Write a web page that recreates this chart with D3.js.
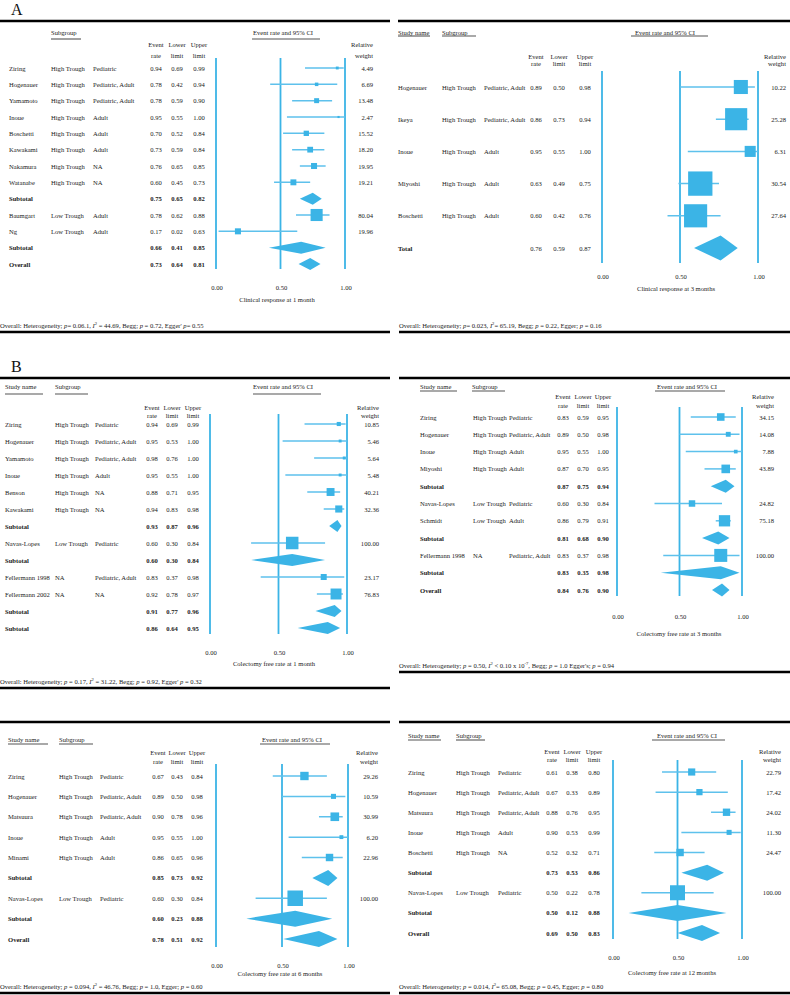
<!DOCTYPE html>
<html><head><meta charset="utf-8">
<script src="https://cdn.jsdelivr.net/npm/d3@7"></script>
<style>body{margin:0;background:#fff}svg{display:block}</style>
</head><body>
<svg id="c" width="790" height="995"></svg>
<script>
// ---------- DATA ----------
const tickValues = [0, 0.5, 1];
const tickLabels = ["0.00", "0.50", "1.00"];

// Panel A left: clinical response at 1 month
const a1Study  = ["Ziring","Hogenauer","Yamamoto","Inoue","Boschetti","Kawakami","Nakamura","Watanabe","Subtotal","Baumgart","Ng","Subtotal","Overall"];
const a1Trough = ["High Trough","High Trough","High Trough","High Trough","High Trough","High Trough","High Trough","High Trough","","Low Trough","Low Trough","",""];
const a1Pop    = ["Pediatric","Pediatric, Adult","Pediatric, Adult","Adult","Adult","Adult","NA","NA","","Adult","Adult","",""];
const a1Rate   = [0.94,0.78,0.78,0.95,0.70,0.73,0.76,0.60,0.75,0.78,0.17,0.66,0.73];
const a1Lower  = [0.69,0.42,0.59,0.55,0.52,0.59,0.65,0.45,0.65,0.62,0.02,0.41,0.64];
const a1Upper  = [0.99,0.94,0.90,1.00,0.84,0.84,0.85,0.73,0.82,0.88,0.63,0.85,0.81];
const a1Weight = [4.49,6.69,13.48,2.47,15.52,18.20,19.95,19.21,null,80.04,19.96,null,null];

// Panel A right: clinical response at 3 months
const a2Study  = ["Hogenauer","Ikeya","Inoue","Miyoshi","Boschetti","Total"];
const a2Trough = ["High Trough","High Trough","High Trough","High Trough","High Trough",""];
const a2Pop    = ["Pediatric, Adult","Pediatric, Adult","Adult","Adult","Adult",""];
const a2Rate   = [0.89,0.86,0.95,0.63,0.60,0.76];
const a2Lower  = [0.50,0.73,0.55,0.49,0.42,0.59];
const a2Upper  = [0.98,0.94,1.00,0.75,0.76,0.87];
const a2Weight = [10.22,25.28,6.31,30.54,27.64,null];

// Panel B left: colectomy free rate at 1 month
const b1Study  = ["Ziring","Hogenauer","Yamamoto","Inoue","Benson","Kawakami","Subtotal","Navas-Lopes","Subtotal","Fellermann 1998","Fellermann 2002","Subtotal","Subtotal"];
const b1Trough = ["High Trough","High Trough","High Trough","High Trough","High Trough","High Trough","","Low Trough","","NA","NA","",""];
const b1Pop    = ["Pediatric","Pediatric, Adult","Pediatric, Adult","Adult","NA","NA","","Pediatric","","Pediatric, Adult","NA","",""];
const b1Rate   = [0.94,0.95,0.98,0.95,0.88,0.94,0.93,0.60,0.60,0.83,0.92,0.91,0.86];
const b1Lower  = [0.69,0.53,0.76,0.55,0.71,0.83,0.87,0.30,0.30,0.37,0.78,0.77,0.64];
const b1Upper  = [0.99,1.00,1.00,1.00,0.95,0.98,0.96,0.84,0.84,0.98,0.97,0.96,0.95];
const b1Weight = [10.85,5.46,5.64,5.48,40.21,32.36,null,100.00,null,23.17,76.83,null,null];

// Panel B right: colectomy free rate at 3 months
const b2Study  = ["Ziring","Hogenauer","Inoue","Miyoshi","Subtotal","Navas-Lopes","Schmidt","Subtotal","Fellermann 1998","Subtotal","Overall"];
const b2Trough = ["High Trough","High Trough","High Trough","High Trough","","Low Trough","Low Trough","","NA","",""];
const b2Pop    = ["Pediatric","Pediatric, Adult","Adult","Adult","","Pediatric","Adult","","Pediatric, Adult","",""];
const b2Rate   = [0.83,0.89,0.95,0.87,0.87,0.60,0.86,0.81,0.83,0.83,0.84];
const b2Lower  = [0.59,0.50,0.55,0.70,0.75,0.30,0.79,0.68,0.37,0.35,0.76];
const b2Upper  = [0.95,0.98,1.00,0.95,0.94,0.84,0.91,0.90,0.98,0.98,0.90];
const b2Weight = [34.15,14.08,7.88,43.89,null,24.82,75.18,null,100.00,null,null];

// Panel C left: colectomy free rate at 6 months
const c1Study  = ["Ziring","Hogenauer","Matsuura","Inoue","Minami","Subtotal","Navas-Lopes","Subtotal","Overall"];
const c1Trough = ["High Trough","High Trough","High Trough","High Trough","High Trough","","Low Trough","",""];
const c1Pop    = ["Pediatric","Pediatric, Adult","Pediatric, Adult","Adult","Adult","","Pediatric","",""];
const c1Rate   = [0.67,0.89,0.90,0.95,0.86,0.85,0.60,0.60,0.78];
const c1Lower  = [0.43,0.50,0.78,0.55,0.65,0.73,0.30,0.23,0.51];
const c1Upper  = [0.84,0.98,0.96,1.00,0.96,0.92,0.84,0.88,0.92];
const c1Weight = [29.26,10.59,30.99,6.20,22.96,null,100.00,null,null];

// Panel C right: colectomy free rate at 12 months
const c2Study  = ["Ziring","Hogenauer","Matsuura","Inoue","Boschetti","Subtotal","Navas-Lopes","Subtotal","Overall"];
const c2Trough = ["High Trough","High Trough","High Trough","High Trough","High Trough","","Low Trough","",""];
const c2Pop    = ["Pediatric","Pediatric, Adult","Pediatric, Adult","Adult","NA","","Pediatric","",""];
const c2Rate   = [0.61,0.67,0.88,0.90,0.52,0.73,0.50,0.50,0.69];
const c2Lower  = [0.38,0.33,0.76,0.53,0.32,0.53,0.22,0.12,0.50];
const c2Upper  = [0.80,0.89,0.95,0.99,0.71,0.86,0.78,0.88,0.83];
const c2Weight = [22.79,17.42,24.02,11.30,24.47,null,100.00,null,null];

const axisTitles = ["Clinical response at 1 month","Clinical response at 3 months","Colectomy free rate at 1 month","Colectomy free rate at 3 months","Colectomy free rate at 6 months","Colectomy free rate at 12 months"];

// footer segments: [text, style] with style "" | "i" (italic) | "sup"
const footers = [
  [["Overall: Heterogeneity; ",""],["p","i"],["= 0.06.1, ",""],["I","i"],["2","sup"],[" = 44.69, Begg; ",""],["p","i"],[" = 0.72, Egger' ",""],["p","i"],["= 0.55",""]],
  [["Overall: Heterogeneity; ",""],["p","i"],["= 0.023, ",""],["I","i"],["2","sup"],["= 65.19, Begg; ",""],["p","i"],[" = 0.22, Egger; ",""],["p","i"],[" = 0.16",""]],
  [["Overall: Heterogeneity; ",""],["p","i"],[" = 0.17, ",""],["I","i"],["2","sup"],[" = 31.22, Begg; ",""],["p","i"],[" = 0.92, Egger' ",""],["p","i"],[" = 0.32",""]],
  [["Overall: Heterogeneity; ",""],["p","i"],[" = 0.50, ",""],["I","i"],["2","sup"],[" < 0.10 x 10",""],["-7","sup"],[", Begg; ",""],["p","i"],[" = 1.0 Egger's; ",""],["p","i"],[" = 0.94",""]],
  [["Overall: Heterogeneity; ",""],["p","i"],[" = 0.094, ",""],["I","i"],["2","sup"],[" = 46.76, Begg; ",""],["p","i"],[" = 1.0, Egger; ",""],["p","i"],[" = 0.60",""]],
  [["Overall: Heterogeneity; ",""],["p","i"],[" = 0.014, ",""],["I","i"],["2","sup"],["= 65.08, Begg; ",""],["p","i"],[" = 0.45, Egger; ",""],["p","i"],[" = 0.80",""]]
];

// ---------- LAYOUT ----------
const FONT = "'Liberation Serif','Times New Roman',serif";
const BLUE = "#3bb4e6", LBLUE = "#5ec1ec", INK = "#222";
const FS = 6.6;

const panels = [
  {d:[a1Study,a1Trough,a1Pop,a1Rate,a1Lower,a1Upper,a1Weight], t:0, x0:216,x1:345, lt:58,lb:269, r0:68,r1:264,
   cols:[9,51,93], vc:[156,177,199], wr:373, hy:[44,55], tickY:287, titleY:299, titleX:277,
   foot:[0,325], top:[0,390,21], bot:[0,390,332], k:1.35, dh:12, boldVals:true,
   hdrY:32, ulY:39, study:null, sub:[51,81], ci:[253,252,320]},
  {d:[a2Study,a2Trough,a2Pop,a2Rate,a2Lower,a2Upper,a2Weight], t:1, x0:602,x1:758, lt:71,lb:263, r0:87,r1:248,
   cols:[398,442,484], vc:[536,559,585], wr:786, hy:[56,63], tickY:276, titleY:288, titleX:676,
   foot:[399,325], top:[398,790,21], bot:[399,790,332], k:4.4, dh:25, boldVals:false,
   hdrY:32, ulY:36, study:[398,430], sub:[442,476], ci:[635,631,708]},
  {d:[b1Study,b1Trough,b1Pop,b1Rate,b1Lower,b1Upper,b1Weight], t:2, x0:210,x1:347, lt:414,lb:634, r0:424,r1:628,
   cols:[5,55,95], vc:[152,172,193], wr:379, hy:[407,415], tickY:652, titleY:663, titleX:274,
   foot:[0,681], top:[0,390,378], bot:[0,390,688], k:1.25, dh:12, boldVals:true,
   hdrY:386, ulY:394, study:[5,43], sub:[55,88], ci:[253,253,321]},
  {d:[b2Study,b2Trough,b2Pop,b2Rate,b2Lower,b2Upper,b2Weight], t:3, x0:617,x1:742, lt:407,lb:596, r0:417,r1:590,
   cols:[420,473,509], vc:[563,583,603], wr:774, hy:[396,405], tickY:616, titleY:633, titleX:679,
   foot:[399,665], top:[399,790,378], bot:[399,790,672], k:1.3, dh:13, boldVals:true,
   hdrY:386, ulY:391, study:[420,457], sub:[472,505], ci:[657,655,725]},
  {d:[c1Study,c1Trough,c1Pop,c1Rate,c1Lower,c1Upper,c1Weight], t:4, x0:216,x1:348, lt:764,lb:947, r0:776,r1:939,
   cols:[8,59,100], vc:[158,177,197], wr:378, hy:[752,761], tickY:965, titleY:973, titleX:280,
   foot:[0,986], top:[0,390,722], bot:[0,390,993], k:1.55, dh:16, boldVals:true,
   hdrY:739, ulY:744, study:[8,48], sub:[59,93], ci:[262,260,330]},
  {d:[c2Study,c2Trough,c2Pop,c2Rate,c2Lower,c2Upper,c2Weight], t:5, x0:613,x1:742, lt:760,lb:939, r0:772,r1:933,
   cols:[408,456,498], vc:[552,572,594], wr:781, hy:[751,759], tickY:957, titleY:972, titleX:672,
   foot:[399,986], top:[399,790,722], bot:[399,790,993], k:1.5, dh:16, boldVals:true,
   hdrY:735, ulY:740, study:[408,441], sub:[456,485], ci:[657,652,725]}
];

const svg = d3.select("#c").attr("font-family", FONT);

function txt(g, x, y, s, opt={}) {
  return g.append("text").attr("x", x).attr("y", y)
    .attr("dominant-baseline","central")
    .attr("font-size", opt.size || FS)
    .attr("font-weight", opt.bold ? "bold" : "normal")
    .attr("text-anchor", opt.anchor || "start")
    .attr("fill", INK).text(s);
}

// panel letters
svg.append("text").attr("x",11).attr("y",15).attr("font-size",16).attr("fill","#111").text("A");
svg.append("text").attr("x",11).attr("y",372).attr("font-size",16).attr("fill","#111").text("B");

panels.forEach(p => {
  const [study, trough, pop, rate, lower, upper, weight] = p.d;
  const n = study.length;
  const g = svg.append("g");
  const x = d3.scaleLinear().domain([0,1]).range([p.x0, p.x1]);
  const y = d3.scaleLinear().domain([0,n-1]).range([p.r0, p.r1]);
  const sz = d3.scaleSqrt().domain([0,100]).range([0, p.k*10]);

  // thick rules
  g.append("line").attr("x1",p.top[0]).attr("x2",p.top[1]).attr("y1",p.top[2]).attr("y2",p.top[2]).attr("stroke","#000").attr("stroke-width",2.4);
  g.append("line").attr("x1",p.bot[0]).attr("x2",p.bot[1]).attr("y1",p.bot[2]).attr("y2",p.bot[2]).attr("stroke","#000").attr("stroke-width",2.4);

  // headers
  const ul = (a,b) => g.append("line").attr("x1",a).attr("x2",b).attr("y1",p.ulY).attr("y2",p.ulY).attr("stroke","#555").attr("stroke-width",1.1);
  if (p.study) { txt(g, p.study[0], p.hdrY, "Study name"); ul(p.study[0], p.study[1]); }
  txt(g, p.sub[0], p.hdrY, "Subgroup"); ul(p.sub[0], p.sub[1]);
  txt(g, p.ci[0], p.hdrY, "Event rate and 95% CI"); ul(p.ci[1], p.ci[2]);
  const hdr = [["Event","rate"],["Lower","limit"],["Upper","limit"]];
  hdr.forEach((h,j) => { txt(g, p.vc[j], p.hy[0], h[0], {anchor:"middle"}); txt(g, p.vc[j], p.hy[1], h[1], {anchor:"middle"}); });
  txt(g, p.wr, p.hy[0], "Relative", {anchor:"end"});
  txt(g, p.wr, p.hy[1], "weight", {anchor:"end"});

  // vertical reference lines
  g.selectAll(".vl").data(tickValues).join("line")
    .attr("x1", d=>x(d)).attr("x2", d=>x(d)).attr("y1", p.lt).attr("y2", p.lb)
    .attr("stroke", BLUE).attr("stroke-width", 1.8);

  // tick labels
  tickValues.forEach((t,j) => txt(g, x(t)+1, p.tickY, tickLabels[j], {anchor:"middle"}));
  txt(g, p.titleX, p.titleY, axisTitles[p.t], {anchor:"middle"});

  // rows
  d3.range(n).forEach(i => {
    const isSum = weight[i] === null;
    const yy = y(i);
    txt(g, p.cols[0], yy, study[i], {bold:isSum});
    if (trough[i]) txt(g, p.cols[1], yy, trough[i]);
    if (pop[i]) txt(g, p.cols[2], yy, pop[i]);
    const bv = isSum && p.boldVals;
    [rate[i], lower[i], upper[i]].forEach((v,j) => txt(g, p.vc[j], yy, v.toFixed(2), {anchor:"middle", bold:bv}));
    if (!isSum) {
      txt(g, p.wr, yy, weight[i].toFixed(2), {anchor:"end"});
      g.append("line").attr("x1", x(lower[i])).attr("x2", x(upper[i])).attr("y1", yy).attr("y2", yy)
        .attr("stroke", LBLUE).attr("stroke-width", 1.5);
      const s = sz(weight[i]);
      g.append("rect").attr("x", x(rate[i]) - s/2).attr("y", yy - s/2).attr("width", s).attr("height", s).attr("fill", BLUE);
    } else {
      const h = p.dh/2;
      g.append("path").attr("d", `M${x(lower[i])},${yy}L${x(rate[i])},${yy-h}L${x(upper[i])},${yy}L${x(rate[i])},${yy+h}Z`).attr("fill", BLUE);
    }
  });

  // footer
  const ft = g.append("text").attr("x", p.foot[0]).attr("y", p.foot[1]).attr("dominant-baseline","central")
    .attr("font-size", FS).attr("fill", INK);
  footers[p.t].forEach(([s, st]) => {
    const ts = ft.append("tspan").text(s);
    if (st === "i") ts.attr("font-style","italic");
    if (st === "sup") ts.attr("font-size", FS*0.7).attr("dy", -2.5);
    else ts.attr("dy", 0);
  });
  // reset dy after superscripts
  ft.selectAll("tspan").each(function(_, k, nodes){
    const prev = k>0 ? footers[p.t][k-1][1] : "";
    const cur = footers[p.t][k][1];
    if (prev === "sup" && cur !== "sup") d3.select(this).attr("dy", 2.5);
  });
});
</script>
</body></html>
